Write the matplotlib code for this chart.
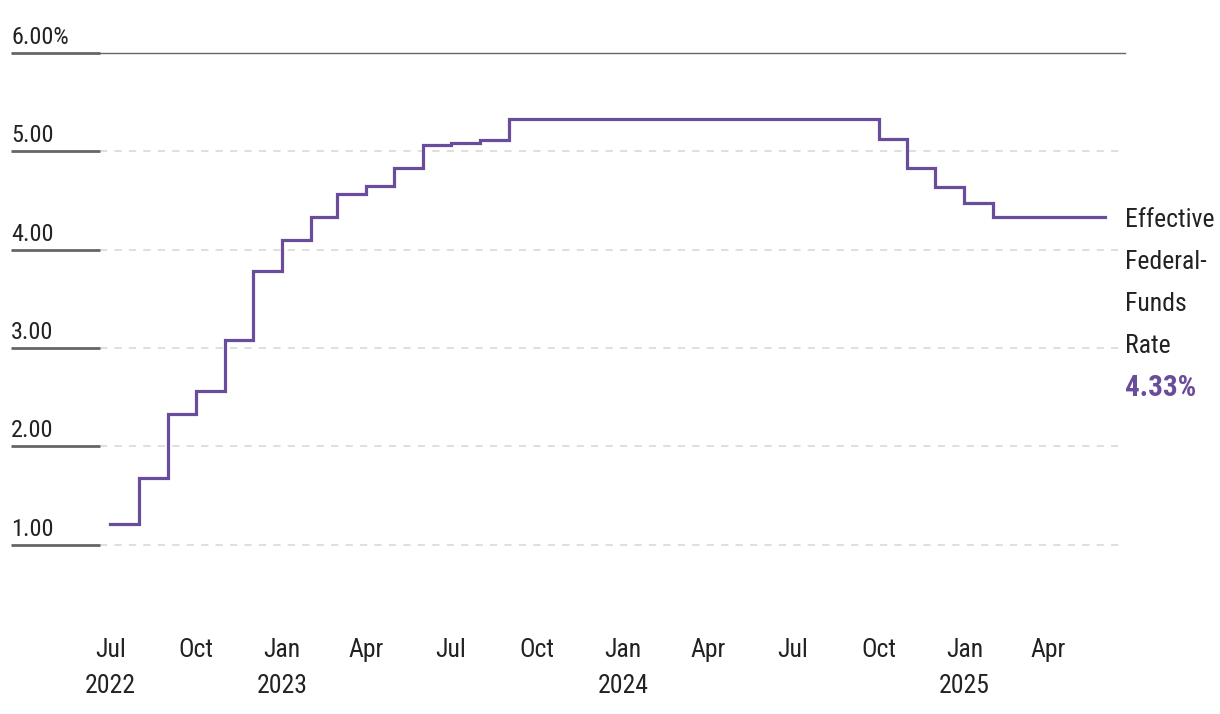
import matplotlib
matplotlib.use('Agg')
import matplotlib.pyplot as plt
import pandas as pd

plt.rcParams['font.family'] = ['Roboto Condensed', 'Roboto', 'DejaVu Sans']

# monthly effective fed funds rate, Jul 2022 .. Jun 2025 (as plotted)
months = pd.date_range('2022-07-01', '2025-06-01', freq='MS')
rates = [1.21, 1.68, 2.33, 2.56, 3.08, 3.78,
         4.10, 4.33, 4.57, 4.65, 4.83, 5.06, 5.08, 5.12, 5.33, 5.33, 5.33, 5.33,
         5.33, 5.33, 5.33, 5.33, 5.33, 5.33, 5.33, 5.33, 5.33, 5.13, 4.83, 4.64,
         4.48, 4.33, 4.33, 4.33, 4.33, 4.33]
yticks = [1, 2, 3, 4, 5, 6]
ylabels = ['1.00', '2.00', '3.00', '4.00', '5.00', '6.00%']
xtick_dates = pd.date_range('2022-07-01', '2025-04-01', freq='3MS')
xtick_labels = ['Jul\n2022', 'Oct', 'Jan\n2023', 'Apr', 'Jul', 'Oct', 'Jan\n2024',
                'Apr', 'Jul', 'Oct', 'Jan\n2025', 'Apr']
end_label = ['Effective', 'Federal-', 'Funds', 'Rate']
last_val = '4.33%'

purple = '#6a4c9c'
txt = '#222222'
fs = 17.5

fig = plt.figure(figsize=(12.2, 7.14), dpi=100)
ax = fig.add_axes([100/1220, 1-594/714, 1025/1220, (594-53)/714])

ax.step(months, rates, where='post', color=purple, lw=2.3, solid_joinstyle='miter')

ax.set_xlim(pd.Timestamp('2022-06-20'), pd.Timestamp('2025-06-22'))
ax.set_ylim(0.5, 6.0)

for s in ax.spines.values():
    s.set_visible(False)

# gridlines
for v in yticks[:-1]:
    ax.axhline(v, color='#dcdcdc', lw=1.3, ls=(0, (4, 4)), zorder=0)
ax.axhline(6, color='#666666', lw=1.0, zorder=0, clip_on=False)

ax.set_yticks(yticks)
ax.set_yticklabels([])
ax.tick_params(axis='y', length=64, width=2, color='#666666', direction='out')

ytrans = ax.get_yaxis_transform()
for v, lab in zip(yticks, ylabels):
    ax.annotate(lab, xy=(0, v), xycoords=ytrans, xytext=(-64, 3),
                textcoords='offset points', ha='left', va='bottom',
                fontsize=fs, color=txt)

ax.set_xticks(xtick_dates)
ax.set_xticklabels(xtick_labels, fontsize=18.5, color=txt, linespacing=1.62, va='top')
ax.tick_params(axis='x', length=0, pad=32)

# end label
ax.annotate('\n'.join(end_label), xy=(1.0, 4.33), xycoords=('axes fraction', 'data'),
            xytext=(0, 7), textcoords='offset points', ha='left', va='top',
            fontsize=18.5, color=txt, linespacing=1.95)
ax.annotate(last_val, xy=(1.0, 4.33), xycoords=('axes fraction', 'data'),
            xytext=(0, -113), textcoords='offset points', ha='left', va='top',
            fontsize=21, color=purple, fontweight='bold')

fig.savefig('out.png', dpi=100)
